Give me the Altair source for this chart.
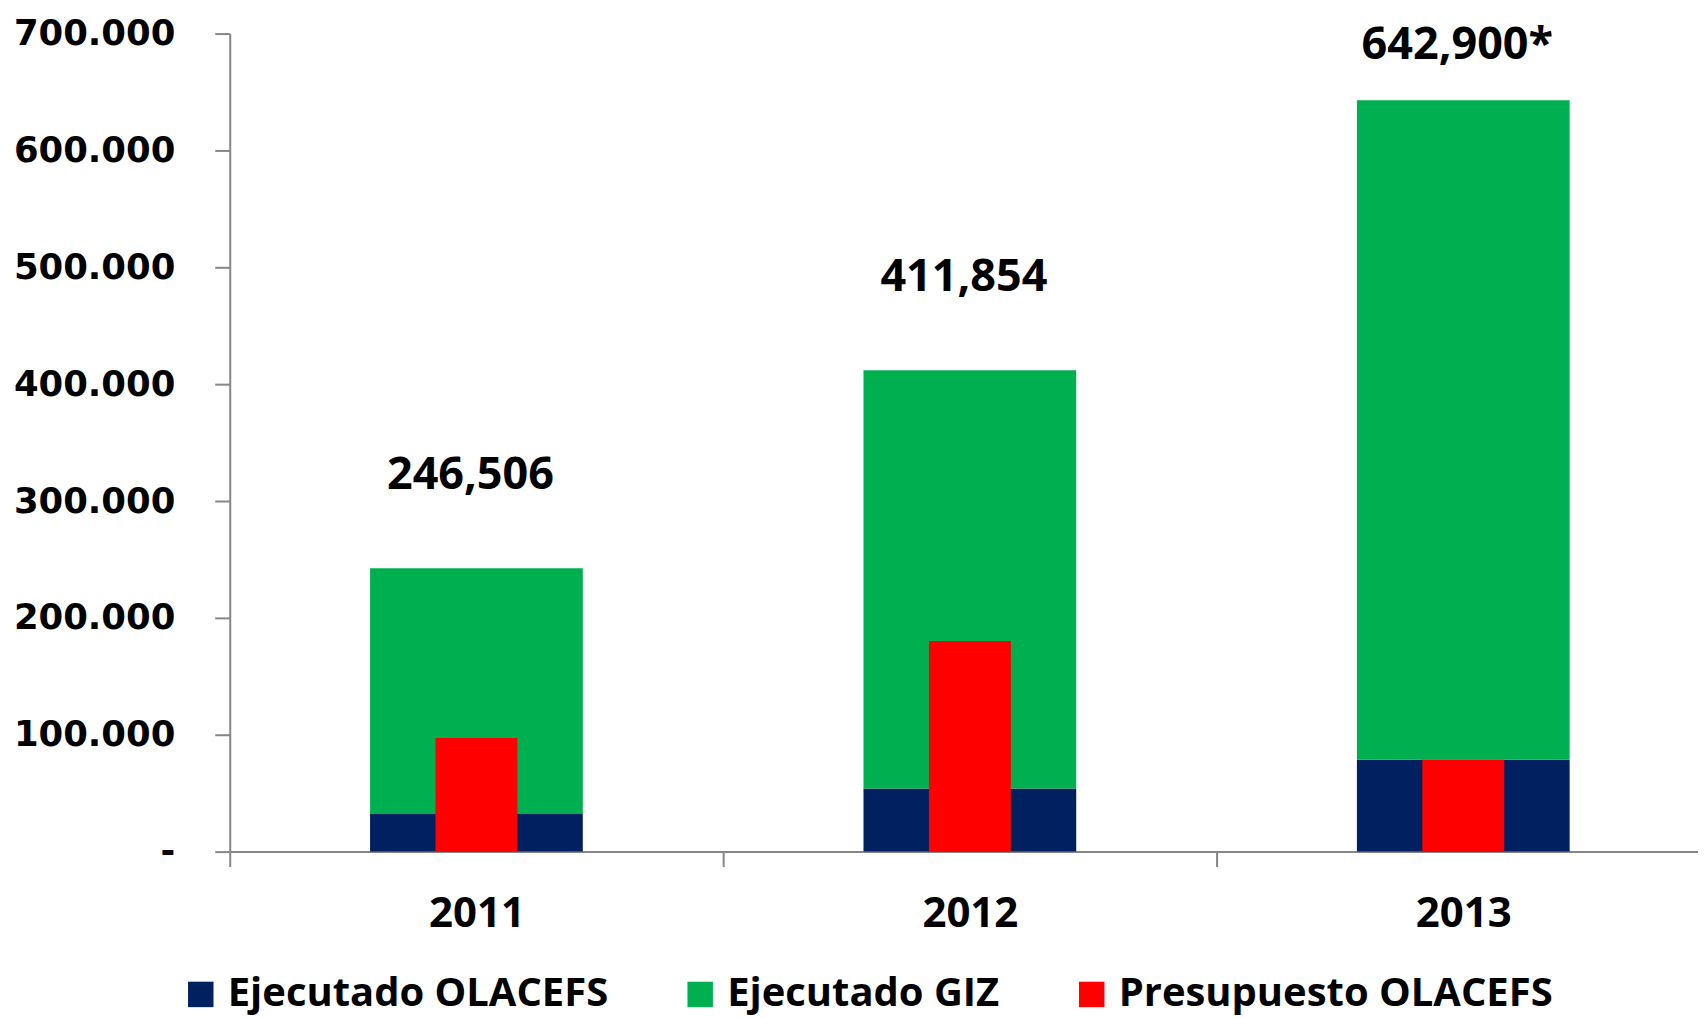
import altair as alt
import pandas as pd

years = ["2011", "2012", "2013"]
ejecutado_olacefs = [32200, 54100, 78600]
ejecutado_giz = [210300, 357800, 564300]
presupuesto_olacefs = [97200, 180300, 78600]
total_labels = ["246,506", "411,854", "642,900*"]
series = ["Ejecutado OLACEFS", "Ejecutado GIZ", "Presupuesto OLACEFS"]
colors = ["#002060", "#00B050", "#FF0000"]

stack_df = pd.DataFrame({
    "year": years * 2,
    "series": [series[0]] * 3 + [series[1]] * 3,
    "value": ejecutado_olacefs + ejecutado_giz,
    "order": [0] * 3 + [1] * 3,
})
red_df = pd.DataFrame({"year": years, "series": [series[2]] * 3, "value": presupuesto_olacefs})
label_df = pd.DataFrame({
    "year": years,
    "label": total_labels,
    "total": [a + b for a, b in zip(ejecutado_olacefs, ejecutado_giz)],
})

AXIS_GRAY = "#868686"
NBSP = "\u00a0"

x_enc = alt.X(
    "year:N",
    title=None,
    scale=alt.Scale(range=[0, 1482], paddingInner=0, paddingOuter=0),
    axis=alt.Axis(
        labelAngle=0, labelFont="Open Sans", labelFontSize=42, labelFontWeight="bold",
        labelColor="black", labelPadding=27, tickBand="extent", tickSize=15,
        tickColor=AXIS_GRAY, tickWidth=2, domainColor=AXIS_GRAY, domainWidth=2,
    ),
)
color_enc = alt.Color(
    "series:N",
    scale=alt.Scale(domain=series, range=colors),
    title=None,
    legend=alt.Legend(
        orient="none", legendX=-49, legendY=942, direction="horizontal",
        symbolType="square", symbolSize=650, symbolStrokeWidth=0,
        labelFont="Open Sans", labelFontSize=40, labelFontWeight="bold",
        labelColor="black", labelOffset=7, labelLimit=800, columnPadding=72,
        padding=0,
    ),
)

y_axis = alt.Axis(
    values=[0, 100000, 200000, 300000, 400000, 500000, 600000, 700000],
    labelExpr=f"datum.value == 0 ? '-{NBSP}{NBSP}' : replace(format(datum.value, ','), ',', '.')",
    labelFont="DejaVu Sans", labelFontSize=35.5, labelFontWeight="bold",
    labelColor="black", labelPadding=40, tickSize=15, tickColor=AXIS_GRAY, tickWidth=2,
    domainColor=AXIS_GRAY, domainWidth=2, grid=False, title=None,
)

stacked = alt.Chart(stack_df).mark_bar(width=213).encode(
    x=x_enc,
    y=alt.Y("value:Q", stack="zero", scale=alt.Scale(domain=[0, 700000], nice=False), axis=y_axis),
    color=color_enc,
    order=alt.Order("order:Q", sort="ascending"),
)

red = alt.Chart(red_df).mark_bar(width=82).encode(
    x=alt.X("year:N"),
    y=alt.Y("value:Q", stack=None),
    color=alt.Color("series:N"),
)

text = alt.Chart(label_df).transform_calculate(
    label_y="min(datum.total + 80000, 690000)"
).mark_text(
    font="Open Sans", fontSize=45, fontWeight="bold", color="black",
    baseline="middle", dx=-6,
).encode(
    x=alt.X("year:N"),
    y=alt.Y("label_y:Q"),
    text="label:N",
)

chart = alt.layer(stacked, red, text).properties(
    width=1470,
    height=819,
    padding={"left": 222, "top": 25, "right": 0, "bottom": 166},
    autosize=alt.AutoSizeParams(type="none"),
).configure_view(stroke=None)

chart.save("out.html", embed_options={"renderer": "svg", "actions": False})
